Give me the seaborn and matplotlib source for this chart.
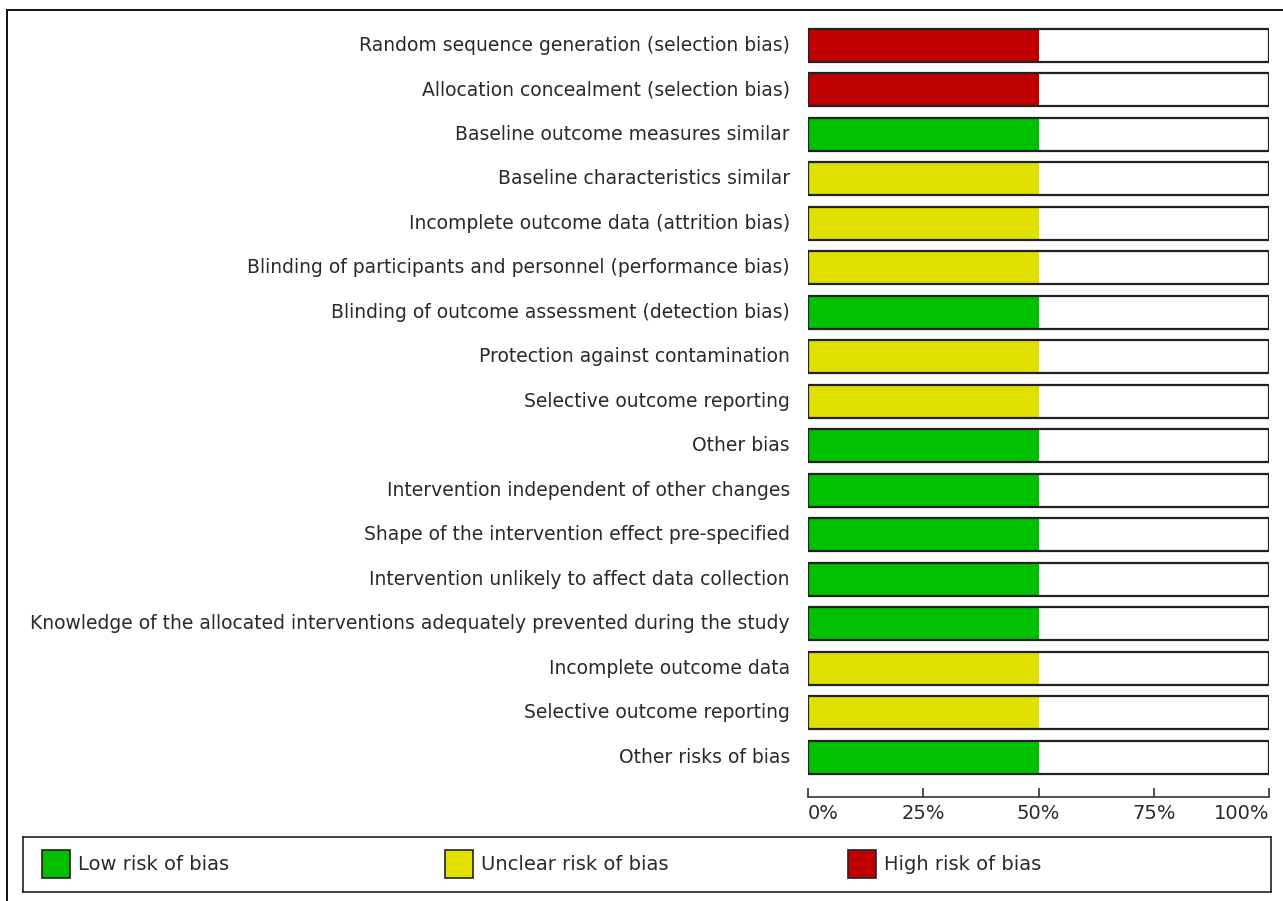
import pandas as pd
import matplotlib.pyplot as plt
import seaborn as sns
from matplotlib.patches import Rectangle

# ============================================================
# 0. 데이터
# ============================================================

domains = [
    "Random sequence generation (selection bias)",
    "Allocation concealment (selection bias)",
    "Baseline outcome measures similar",
    "Baseline characteristics similar",
    "Incomplete outcome data (attrition bias)",
    "Blinding of participants and personnel (performance bias)",
    "Blinding of outcome assessment (detection bias)",
    "Protection against contamination",
    "Selective outcome reporting",
    "Other bias",
    "Intervention independent of other changes",
    "Shape of the intervention effect pre-specified",
    "Intervention unlikely to affect data collection",
    "Knowledge of the allocated interventions adequately prevented during the study",
    "Incomplete outcome data",
    "Selective outcome reporting",
    "Other risks of bias",
]

judgements = [
    "High", "High", "Low", "Unclear", "Unclear", "Unclear", "Low", "Unclear",
    "Unclear", "Low", "Low", "Low", "Low", "Low", "Unclear", "Unclear", "Low",
]

percent = [50] * len(domains)

tick_values = [0, 25, 50, 75, 100]
tick_labels = ["0%", "25%", "50%", "75%", "100%"]

legend_labels = ["Low risk of bias", "Unclear risk of bias", "High risk of bias"]
palette = {"Low": "#00C000", "Unclear": "#E0E000", "High": "#C00000"}

df = pd.DataFrame({
    "row": [f"r{i:02d}" for i in range(len(domains))],
    "domain": domains,
    "judgement": judgements,
    "percent": percent,
    "full": 100,
})

# ============================================================
# 1. 그림 설정
# ============================================================

sns.set_style("white")
plt.rcParams["font.family"] = ["DejaVu Sans"]

FS = 13.5
TXT = "#2a2a2a"

W, H = 1283, 901
fig = plt.figure(figsize=(W / 100, H / 100), dpi=100)

# bar rows: centre of first = 45.5px, last = 757px
top_px, bot_px = 23.0, 779.5
ax = fig.add_axes([808 / W, 1 - bot_px / H, (1269 - 808) / W, (bot_px - top_px) / H])

bar_h = 0.75

# white background of each bar
sns.barplot(data=df, x="full", y="row", orient="h", color="white",
            width=bar_h, linewidth=0, saturation=1, ax=ax, zorder=1)
# coloured part
sns.barplot(data=df, x="percent", y="row", orient="h", hue="judgement",
            palette=palette, width=bar_h, linewidth=0, legend=False,
            saturation=1, dodge=False, ax=ax, zorder=2)
# outline
sns.barplot(data=df, x="full", y="row", orient="h", facecolor="none",
            edgecolor="#222222", width=bar_h, linewidth=1.6, ax=ax, zorder=3)

ax.set_xlim(0, 100)
ax.set_ylim(len(domains) - 0.5, -0.5)
ax.set_xlabel("")
ax.set_ylabel("")

ax.set_yticks(range(len(domains)))
ax.set_yticklabels(domains, fontsize=FS, color=TXT, va="center")
ax.tick_params(axis="y", length=0, pad=13)
for t in ax.get_yticklabels():
    t.set_y(t.get_position()[1])

for side in ["top", "right", "left"]:
    ax.spines[side].set_visible(False)
ax.spines["bottom"].set_position(("outward", 12.5))
ax.spines["bottom"].set_color("#222222")
ax.spines["bottom"].set_linewidth(1.1)

ax.set_xticks(tick_values)
ax.set_xticklabels(tick_labels, fontsize=14, color=TXT)
ax.tick_params(axis="x", direction="in", length=6.5, width=1.1,
               color="#222222", pad=5, bottom=True)
labels = ax.get_xticklabels()
labels[0].set_ha("left")
labels[-1].set_ha("right")

# ============================================================
# 2. 범례 (수동)
# ============================================================

lax = fig.add_axes([23 / W, 1 - 892 / H, (1271 - 23) / W, (892 - 837) / H])
lax.set_xlim(23, 1271)
lax.set_ylim(892, 837)
lax.set_xticks([])
lax.set_yticks([])
for s in lax.spines.values():
    s.set_color("#222222")
    s.set_linewidth(1.2)

for x0, key, lab in zip([42, 445, 848], ["Low", "Unclear", "High"], legend_labels):
    lax.add_patch(Rectangle((x0, 850), 28, 28, facecolor=palette[key],
                            edgecolor="#222222", linewidth=1.2))
    lax.text(x0 + 36, 864, lab, fontsize=14, va="center", ha="left",
             color=TXT)

# 바깥 테두리 (왼쪽, 위쪽만 보임)
fig.add_artist(Rectangle((7 / W, -0.1), 1.2, 1 - 10 / H + 0.1,
                         transform=fig.transFigure, fill=False,
                         edgecolor="#111111", linewidth=1.4))

fig.savefig("out.png", dpi=100)
